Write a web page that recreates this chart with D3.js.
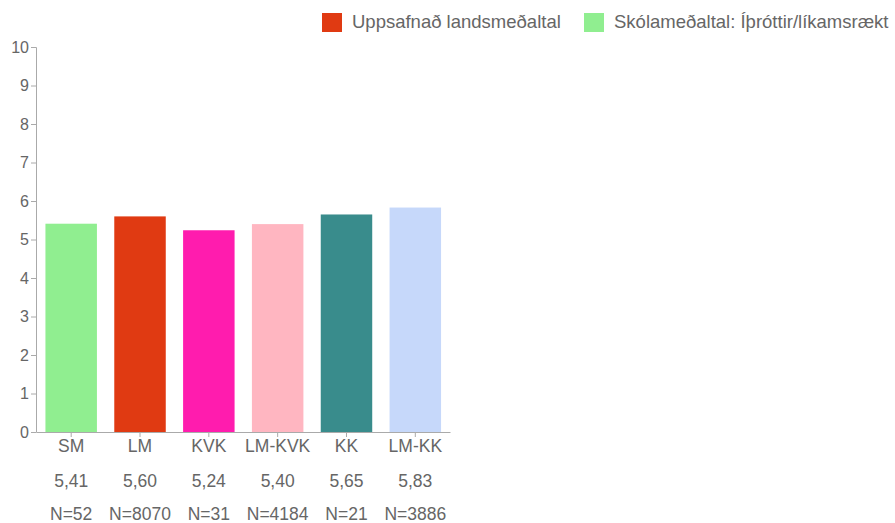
<!DOCTYPE html>
<html><head><meta charset="utf-8">
<script src="https://cdn.jsdelivr.net/npm/d3@7"></script>
<style>body{margin:0;background:#fff;}svg{display:block;font-family:"Liberation Sans",Arial,sans-serif;}</style>
</head><body>
<svg id="c" width="895" height="523"></svg>
<script>
const categories = ["SM","LM","KVK","LM-KVK","KK","LM-KK"];
const values = [5.41,5.60,5.24,5.40,5.65,5.83];
const valueLabels = ["5,41","5,60","5,24","5,40","5,65","5,83"];
const nLabels = ["N=52","N=8070","N=31","N=4184","N=21","N=3886"];
const colors = ["#90ee90","#e03a12","#ff1cae","#ffb6c1","#398c8c","#c6d8fa"];
const yTicks = [0,1,2,3,4,5,6,7,8,9,10];
const legendItems = ["Uppsafnað landsmeðaltal","Skólameðaltal: Íþróttir/líkamsrækt"];
const legendColors = ["#e03a12","#90ee90"];

const svg = d3.select("#c");
const x = d3.scaleBand().domain(categories).range([36.5,450]).paddingInner(0.252).paddingOuter(0.13);
const y = d3.scaleLinear().domain([0,10]).range([432,47]);

const axisCol = "#aaa", textCol = "#666";

svg.selectAll("rect.bar").data(values).join("rect").attr("class","bar")
  .attr("x",(d,i)=>x(categories[i])).attr("width",x.bandwidth())
  .attr("y",d=>y(d)).attr("height",d=>y(0)-y(d))
  .attr("fill",(d,i)=>colors[i]);

const ya = svg.append("g").attr("transform","translate(36,0)")
  .call(d3.axisLeft(y).tickValues(yTicks).tickSize(5).tickSizeOuter(5).tickPadding(2));
ya.select(".domain").attr("stroke",axisCol);
ya.selectAll(".tick line").attr("stroke",axisCol);
ya.selectAll(".tick text").attr("fill",textCol).style("font-size","16px");

const xa = svg.append("g").attr("transform","translate(0,432)")
  .call(d3.axisBottom(x).tickSize(5).tickSizeOuter(0).tickPadding(3));
xa.select(".domain").attr("stroke",axisCol);
xa.selectAll(".tick line").attr("stroke",axisCol);
xa.selectAll(".tick text").attr("fill",textCol).style("font-size","17.5px");

svg.selectAll("text.val").data(valueLabels).join("text").attr("class","val")
  .attr("x",(d,i)=>x(categories[i])+x.bandwidth()/2).attr("y",487)
  .attr("text-anchor","middle").attr("fill",textCol).style("font-size","17.5px").text(d=>d);
svg.selectAll("text.n").data(nLabels).join("text").attr("class","n")
  .attr("x",(d,i)=>x(categories[i])+x.bandwidth()/2).attr("y",520)
  .attr("text-anchor","middle").attr("fill",textCol).style("font-size","17.5px").text(d=>d);

const lx = [322,584];
legendItems.forEach((t,i)=>{
  svg.append("rect").attr("x",lx[i]).attr("y",13).attr("width",20).attr("height",19).attr("fill",legendColors[i]);
  svg.append("text").attr("x",lx[i]+30).attr("y",28).attr("fill",textCol).style("font-size","18.5px").text(t);
});
</script>
</body></html>
